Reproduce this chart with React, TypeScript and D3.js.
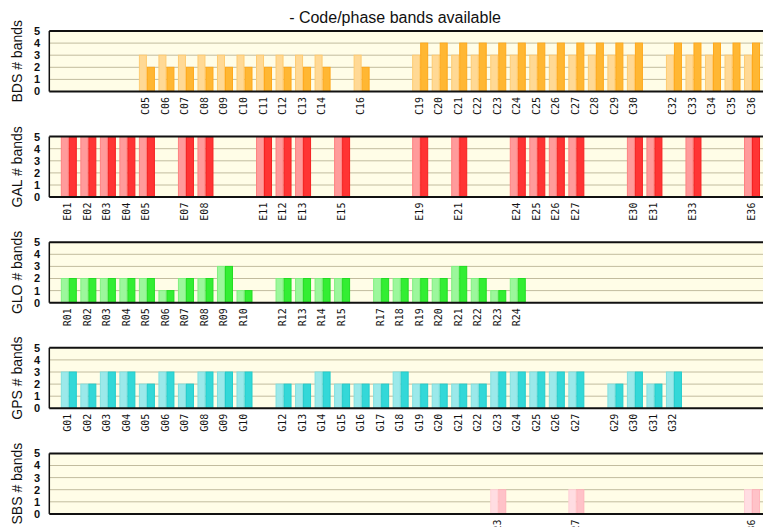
import React from "react";
import { scaleLinear, range } from "d3";

// satellites and bands per constellation (light = code, dark = phase)
const bdsPrn = ["C05", "C06", "C07", "C08", "C09", "C10", "C11", "C12", "C13", "C14", "C16",
  "C19", "C20", "C21", "C22", "C23", "C24", "C25", "C26", "C27", "C28", "C29", "C30",
  "C32", "C33", "C34", "C35", "C36"];
const bdsCode = [3, 3, 3, 3, 3, 3, 3, 3, 3, 3, 3, 3, 3, 3, 3, 3, 3, 3, 3, 3, 3, 3, 3, 3, 3, 3, 3, 3];
const bdsPhase = [2, 2, 2, 2, 2, 2, 2, 2, 2, 2, 2, 4, 4, 4, 4, 4, 4, 4, 4, 4, 4, 4, 4, 4, 4, 4, 4, 4];

const galPrn = ["E01", "E02", "E03", "E04", "E05", "E07", "E08", "E11", "E12", "E13", "E15",
  "E19", "E21", "E24", "E25", "E26", "E27", "E30", "E31", "E33", "E36"];
const galCode = [5, 5, 5, 5, 5, 5, 5, 5, 5, 5, 5, 5, 5, 5, 5, 5, 5, 5, 5, 5, 5];
const galPhase = [5, 5, 5, 5, 5, 5, 5, 5, 5, 5, 5, 5, 5, 5, 5, 5, 5, 5, 5, 5, 5];

const gloPrn = ["R01", "R02", "R03", "R04", "R05", "R06", "R07", "R08", "R09", "R10",
  "R12", "R13", "R14", "R15", "R17", "R18", "R19", "R20", "R21", "R22", "R23", "R24"];
const gloCode = [2, 2, 2, 2, 2, 1, 2, 2, 3, 1, 2, 2, 2, 2, 2, 2, 2, 2, 3, 2, 1, 2];
const gloPhase = [2, 2, 2, 2, 2, 1, 2, 2, 3, 1, 2, 2, 2, 2, 2, 2, 2, 2, 3, 2, 1, 2];

const gpsPrn = ["G01", "G02", "G03", "G04", "G05", "G06", "G07", "G08", "G09", "G10",
  "G12", "G13", "G14", "G15", "G16", "G17", "G18", "G19", "G20", "G21", "G22",
  "G23", "G24", "G25", "G26", "G27", "G29", "G30", "G31", "G32"];
const gpsCode = [3, 2, 3, 3, 2, 3, 2, 3, 3, 3, 2, 2, 3, 2, 2, 2, 3, 2, 2, 2, 2, 3, 3, 3, 3, 3, 2, 3, 2, 3];
const gpsPhase = [3, 2, 3, 3, 2, 3, 2, 3, 3, 3, 2, 2, 3, 2, 2, 2, 3, 2, 2, 2, 2, 3, 3, 3, 3, 3, 2, 3, 2, 3];

const sbsPrn = ["S23", "S27", "S36"];
const sbsCode = [2, 2, 2];
const sbsPhase = [2, 2, 2];

const yTicks = [0, 1, 2, 3, 4, 5];

const panels = [
  { sys: "BDS", prn: bdsPrn, code: bdsCode, phase: bdsPhase,
    light: "#FFD995", lightEdge: "#FFCB70", dark: "#FFB733", darkEdge: "#FFA81A" },
  { sys: "GAL", prn: galPrn, code: galCode, phase: galPhase,
    light: "#FF9B9B", lightEdge: "#FF8080", dark: "#FF3434", darkEdge: "#F52020" },
  { sys: "GLO", prn: gloPrn, code: gloCode, phase: gloPhase,
    light: "#9CF79C", lightEdge: "#80F080", dark: "#33EE33", darkEdge: "#22DD22" },
  { sys: "GPS", prn: gpsPrn, code: gpsCode, phase: gpsPhase,
    light: "#9BE9EA", lightEdge: "#80E0E0", dark: "#33D8D8", darkEdge: "#22CCCC" },
  { sys: "SBS", prn: sbsPrn, code: sbsCode, phase: sbsPhase,
    light: "#FFDDE2", lightEdge: "#FFD0D6", dark: "#FFC2C8", darkEdge: "#FFB4BC" },
];

const W = 763;
const H = 527;
const left = 49.3;
const slot = 19.52;
const panelTop = 31;
const panelStep = 105.6;
const panelH = 60.5;
const barW = 8;

function Panel({ p, top }) {
  const x = scaleLinear().domain([0, 37]).range([left, left + 37 * slot]);
  const y = scaleLinear().domain([0, 5]).range([top + panelH, top]);
  const slotOf = (prn) => +prn.slice(1);

  return (
    <g>
      <rect x={left} y={top} width={37 * slot} height={panelH} fill="#FFFDE7" />
      {range(1, 5).map((t) => (
        <line key={t} x1={left} x2={W} y1={y(t)} y2={y(t)} stroke="#C2BC9E" strokeWidth={1} />
      ))}
      {p.prn.map((prn, i) => {
        const cx = x(slotOf(prn));
        return (
          <g key={prn}>
            <rect x={cx - barW + 0.5} y={y(p.code[i])} width={barW - 1} height={y(0) - y(p.code[i])}
              fill={p.light} stroke={p.lightEdge} strokeWidth={1} />
            <rect x={cx + 0.5} y={y(p.phase[i])} width={barW - 1} height={y(0) - y(p.phase[i])}
              fill={p.dark} stroke={p.darkEdge} strokeWidth={1} />
            <text transform={`translate(${cx - 1},${y(0) + 5.5}) rotate(-90)`} textAnchor="end"
              dominantBaseline="central" fontFamily="'DejaVu Sans Mono', monospace" fontSize={10}
              fill="#111">{prn}</text>
          </g>
        );
      })}
      <line x1={left} x2={W} y1={top} y2={top} stroke="#111" strokeWidth={2} />
      <line x1={left} x2={W} y1={top + panelH} y2={top + panelH} stroke="#111" strokeWidth={2} />
      <line x1={left} x2={left} y1={top} y2={top + panelH} stroke="#111" strokeWidth={1.5} />
      {yTicks.map((t) => (
        <text key={t} x={37} y={y(t)} dy="0.36em" textAnchor="middle"
          fontFamily="'Liberation Sans', Arial, sans-serif" fontSize={11} fontWeight="bold" fill="#111">{t}</text>
      ))}
      <text transform={`translate(${22},${top + panelH / 2}) rotate(-90)`} textAnchor="middle"
        fontFamily="'Liberation Sans', Arial, sans-serif" fontSize={14} fill="#111">{p.sys} # bands</text>
    </g>
  );
}

export default function App() {
  return (
    <svg width={W} height={H} style={{ position: "absolute", left: 0, top: 0, background: "#fff" }}>
      <text x={395} y={23} textAnchor="middle" fontFamily="'Liberation Sans', Arial, sans-serif"
        fontSize={16} fill="#111">- Code/phase bands available</text>
      {panels.map((p, i) => (
        <Panel key={p.sys} p={p} top={panelTop + i * panelStep} />
      ))}
    </svg>
  );
}
